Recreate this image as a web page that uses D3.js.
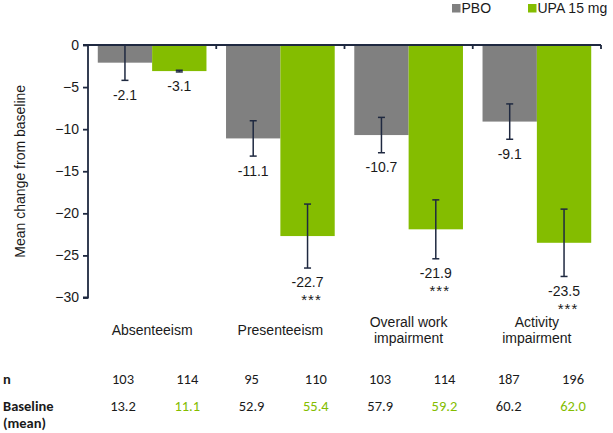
<!DOCTYPE html>
<html><head><meta charset="utf-8">
<script src="https://cdn.jsdelivr.net/npm/d3@7"></script>
<style>body{margin:0;background:#fff}svg{display:block}</style>
</head><body><svg id="c" width="613" height="433"></svg>
<script>
const categories = [["Absenteeism"], ["Presenteeism"], ["Overall work", "impairment"], ["Activity", "impairment"]];
const series = ["PBO", "UPA 15 mg"];
const pboValues = [-2.1, -11.1, -10.7, -9.1];
const upaValues = [-3.1, -22.7, -21.9, -23.5];
const pboErr = [2.1, 2.1, 2.1, 2.1];
const upaErr = [0.1, 3.8, 3.5, 4.0];
const upaSig = ["", "***", "***", "***"];
const yTicks = [0, -5, -10, -15, -20, -25, -30];
const nPbo = ["103", "95", "103", "187"];
const nUpa = ["114", "110", "114", "196"];
const basePbo = ["13.2", "52.9", "57.9", "60.2"];
const baseUpa = ["11.1", "55.4", "59.2", "62.0"];

const colors = {"PBO": "#808080", "UPA 15 mg": "#84bd00"};
const axisColor = "#1f2940";
const textColor = "#1a1a1a";
const font = "'Liberation Sans', Arial, sans-serif";
const tableFont = "Carlito, Calibri, Lato, sans-serif";

const svg = d3.select("#c");
const catKeys = categories.map(c => c.join(" "));
const x = d3.scaleBand().domain(catKeys).range([88, 601]).paddingInner(0).paddingOuter(0);
const xs = d3.scaleBand().domain(series).range([0, x.bandwidth()]).paddingInner(0).paddingOuter(0.18);
const y = d3.scaleLinear().domain([-30, 0]).range([297.5, 45]);

const rows = catKeys.map((k, i) => [
  {cat: k, s: "PBO", v: pboValues[i], e: pboErr[i], sig: ""},
  {cat: k, s: "UPA 15 mg", v: upaValues[i], e: upaErr[i], sig: upaSig[i]}
]).flat();

// bars
svg.append("g").selectAll("rect").data(rows).join("rect")
  .attr("x", d => x(d.cat) + xs(d.s))
  .attr("width", xs.bandwidth())
  .attr("y", y(0))
  .attr("height", d => y(d.v) - y(0))
  .attr("fill", d => colors[d.s]);

// error bars
const cx = d => x(d.cat) + xs(d.s) + xs.bandwidth() / 2;
const eg = svg.append("g").attr("stroke", axisColor).attr("stroke-width", 1.5);
rows.forEach(d => {
  const top = y(d.v + d.e), bot = y(d.v - d.e), c = cx(d);
  eg.append("line").attr("x1", c).attr("x2", c).attr("y1", top).attr("y2", bot);
  eg.append("line").attr("x1", c - 3.5).attr("x2", c + 3.5).attr("y1", top).attr("y2", top);
  eg.append("line").attr("x1", c - 3.5).attr("x2", c + 3.5).attr("y1", bot).attr("y2", bot);
});

// value labels
const lg = svg.append("g").attr("font-family", font).attr("font-size", 14).attr("fill", textColor).attr("text-anchor", "middle");
rows.forEach(d => {
  const bot = y(d.v - d.e);
  lg.append("text").attr("x", cx(d)).attr("y", bot + 14.5).attr("dy", "0.35em").text(d.v.toFixed(1));
  if (d.sig) lg.append("text").attr("x", cx(d) + 4).attr("y", bot + 32).attr("dy", "0.35em").attr("font-size", 15).attr("letter-spacing", 1).text(d.sig);
});

// y axis
const yAxis = svg.append("g").attr("transform", "translate(88,0)")
  .call(d3.axisLeft(y).tickValues(yTicks).tickSize(5).tickPadding(4).tickFormat(d3.format("d")));
yAxis.selectAll("path,line").attr("stroke", axisColor).attr("stroke-width", 1.8);
yAxis.select(".domain").attr("d", `M-5,${y(0)}H0V${y(-30)}H-5`);
yAxis.selectAll("text").attr("font-family", font).attr("font-size", 14).attr("fill", textColor);

// x axis line at zero with ticks at group boundaries (pointing down)
const xg = svg.append("g").attr("stroke", axisColor).attr("stroke-width", 1.8);
xg.append("line").attr("x1", 88).attr("x2", x.range()[1]).attr("y1", y(0)).attr("y2", y(0));
catKeys.forEach(k => {
  const bx = x(k) + x.bandwidth();
  xg.append("line").attr("x1", bx).attr("x2", bx).attr("y1", y(0)).attr("y2", y(0) + 4);
});

// y axis title
svg.append("text").attr("transform", `translate(20,${(y(0) + y(-30)) / 2}) rotate(-90)`)
  .attr("text-anchor", "middle").attr("dy", "0.35em")
  .attr("font-family", font).attr("font-size", 14).attr("fill", textColor)
  .text("Mean change from baseline");

// category labels
const cg = svg.append("g").attr("font-family", font).attr("font-size", 14).attr("fill", textColor).attr("text-anchor", "middle");
categories.forEach((c, i) => {
  const xc = x(catKeys[i]) + x.bandwidth() / 2;
  const start = 330 - (c.length - 1) * 8;
  c.forEach((line, j) => cg.append("text").attr("x", xc).attr("y", start + j * 16).attr("dy", "0.35em").text(line));
});

// legend
const leg = svg.append("g").attr("font-family", font).attr("font-size", 14).attr("fill", textColor);
const legX = d3.scalePoint().domain(series).range([452, 528]);
series.forEach(s => {
  leg.append("rect").attr("x", legX(s)).attr("y", 4).attr("width", 8.5).attr("height", 8.5).attr("fill", colors[s]);
  leg.append("text").attr("x", legX(s) + 9.5).attr("y", 8.5).attr("dy", "0.35em").text(s);
});

// table
const tx = d3.scalePoint().domain(d3.range(8)).range([123, 573]);
const tg = svg.append("g").attr("font-family", tableFont).attr("font-size", 14.5).attr("text-anchor", "middle");
tg.append("text").attr("x", 3).attr("y", 379).attr("dy", "0.35em").attr("text-anchor", "start").attr("font-weight", "bold").attr("fill", textColor).text("n");
tg.append("text").attr("x", 3).attr("y", 406).attr("dy", "0.35em").attr("text-anchor", "start").attr("font-weight", "bold").attr("fill", textColor).text("Baseline");
tg.append("text").attr("x", 3).attr("y", 423).attr("dy", "0.35em").attr("text-anchor", "start").attr("font-weight", "bold").attr("fill", textColor).text("(mean)");
catKeys.forEach((k, i) => {
  tg.append("text").attr("x", tx(i * 2)).attr("y", 379).attr("dy", "0.35em").attr("fill", textColor).text(nPbo[i]);
  tg.append("text").attr("x", tx(i * 2 + 1)).attr("y", 379).attr("dy", "0.35em").attr("fill", textColor).text(nUpa[i]);
  tg.append("text").attr("x", tx(i * 2)).attr("y", 406).attr("dy", "0.35em").attr("fill", textColor).text(basePbo[i]);
  tg.append("text").attr("x", tx(i * 2 + 1)).attr("y", 406).attr("dy", "0.35em").attr("fill", colors["UPA 15 mg"]).text(baseUpa[i]);
});
</script></body></html>
